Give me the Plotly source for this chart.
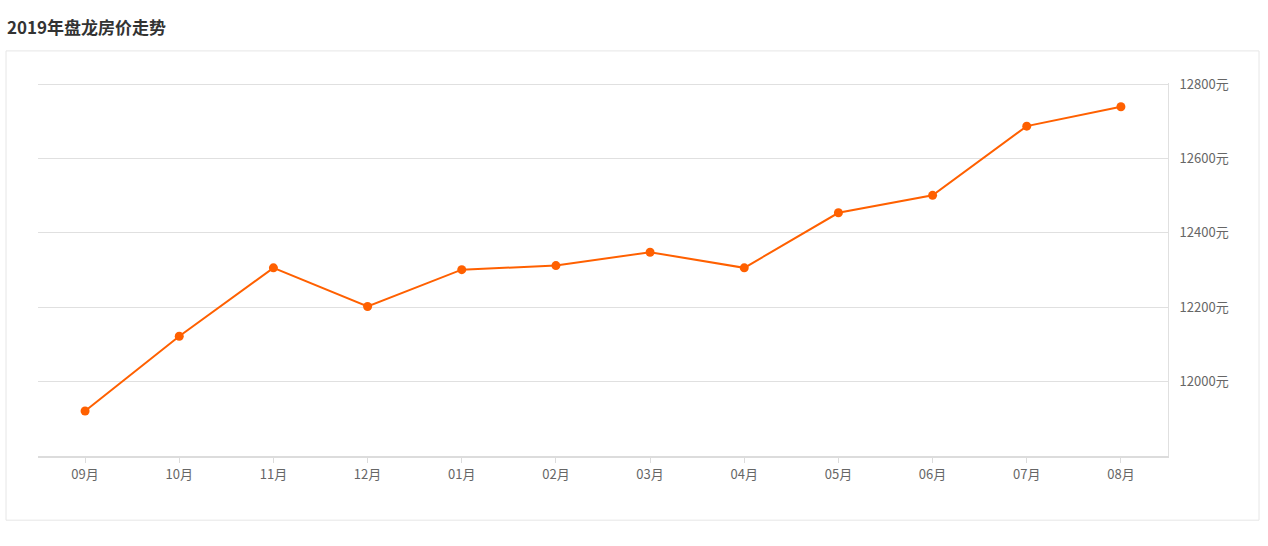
import plotly.graph_objects as go

months = ["09月", "10月", "11月", "12月", "01月", "02月", "03月", "04月", "05月", "06月", "07月", "08月"]
prices = [11921, 12122, 12306, 12202, 12301, 12312, 12348, 12306, 12454, 12501, 12687, 12739]
y_ticks = [12000, 12200, 12400, 12600, 12800]
y_tick_text = [f"{v}元" for v in y_ticks]
title_text = "2019年盘龙房价走势"

FONT = "Microsoft YaHei, Noto Sans CJK SC, sans-serif"

fig = go.Figure()
fig.add_trace(go.Scatter(
    x=months, y=prices, mode="lines+markers",
    line=dict(color="#ff6000", width=2),
    marker=dict(color="#ff6000", size=9),
    hoverinfo="x+y", showlegend=False,
))

W, H = 1268, 546
L, R, T, B = 38, 100, 84, 90
pw, ph = W - L - R, H - T - B

def px_x(x):
    return (x - L) / pw

def px_y(y):
    return (H - B - y) / ph

fig.update_layout(
    width=W, height=H,
    margin=dict(l=L, r=R, t=T - 1, b=B, pad=0),
    paper_bgcolor="white", plot_bgcolor="white",
    font=dict(family=FONT, size=13, color="#666"),
    xaxis=dict(
        type="category", range=[-0.5, len(months) - 0.5],
        showgrid=False, showline=True, linecolor="#dcdcdc", linewidth=2,
        ticks="outside", ticklen=5, tickcolor="#dcdcdc", tickwidth=1,
        tickfont=dict(size=13, color="#666", family=FONT),
        zeroline=False, fixedrange=True,
    ),
    yaxis=dict(
        side="right", range=[11800, 12803],
        tickvals=y_ticks, ticktext=y_tick_text,
        showgrid=True, gridcolor="#e0e0e0", gridwidth=1,
        showline=True, linecolor="#e0e0e0", linewidth=1,
        ticks="", ticklabelstandoff=8,
        tickfont=dict(size=13, color="#666", family=FONT),
        zeroline=False, fixedrange=True,
    ),
    shapes=[dict(
        type="rect", xref="paper", yref="paper",
        x0=px_x(6), x1=px_x(1259), y0=px_y(520), y1=px_y(52),
        line=dict(color="#e6e6e6", width=1), fillcolor="rgba(0,0,0,0)", layer="below",
    )],
    annotations=[dict(
        text=f"<b>{title_text}</b>", xref="paper", yref="paper",
        x=px_x(5), y=px_y(28), xanchor="left", yanchor="middle",
        showarrow=False, font=dict(size=17, color="#333", family=FONT),
    )],
)

fig.write_html(
    "out.html",
    config={"displayModeBar": False},
    post_script="document.body.style.margin='0';document.body.style.overflow='hidden';",
)
